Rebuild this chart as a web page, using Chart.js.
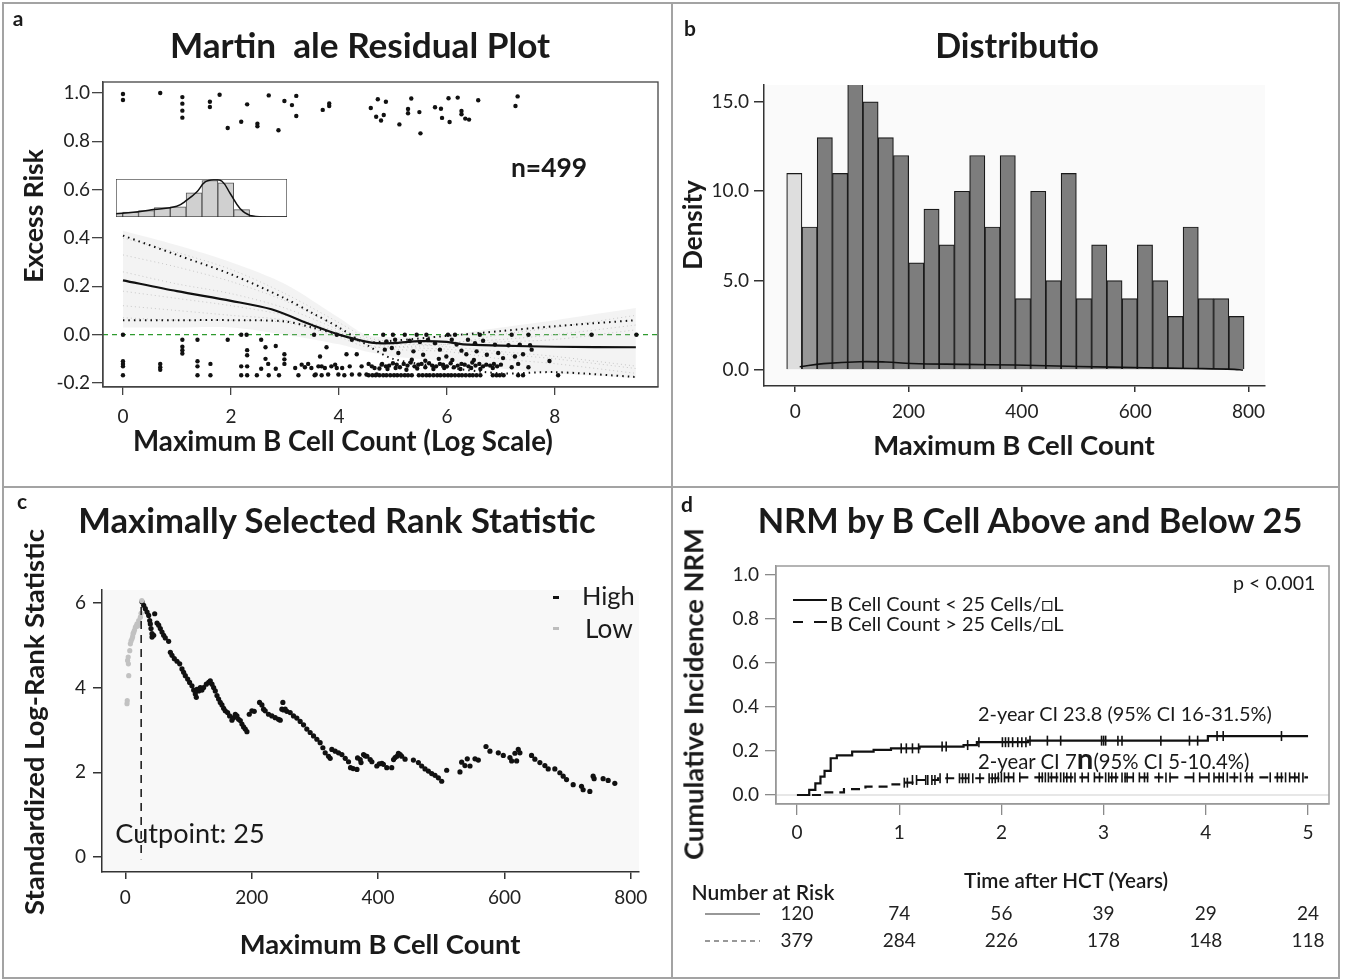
<!DOCTYPE html>
<html>
<head>
<meta charset="utf-8">
<title>B cell count and NRM</title>
<script src="https://cdn.jsdelivr.net/npm/chart.js@4.4.1/dist/chart.umd.min.js"></script>
<style>
    body { margin: 0; background: #ffffff; }
    #page { position: relative; width: 1345px; height: 980px; overflow: hidden; background: #ffffff; font-family: Lato, 'Open Sans', sans-serif; color: #1a1a1a; }
    .wrap { position: absolute; }
    .rule { position: absolute; background: #a3a3a3; }
    .txt { position: absolute; white-space: pre; line-height: 1; }
    .c { transform: translate(-50%, -50%); }
    .l { transform: translate(0, -50%); }
    .v { transform: translate(-50%, -50%) rotate(-90deg); }
    .bold { font-weight: 700; }
    .semi { font-weight: 600; }
    .mark { position: absolute; }
</style>
</head>
<body>
<div id="page">
    <div class="wrap" style="left:0;top:0;width:672px;height:487px"><canvas id="residualChart"></canvas></div>
    <div class="wrap" style="left:116px;top:179px;width:171px;height:38px"><canvas id="insetChart"></canvas></div>
    <div class="wrap" style="left:672px;top:0;width:673px;height:487px"><canvas id="distributionChart"></canvas></div>
    <div class="wrap" style="left:0;top:487px;width:672px;height:493px"><canvas id="rankChart"></canvas></div>
    <div class="wrap" style="left:672px;top:487px;width:673px;height:493px"><canvas id="nrmChart"></canvas></div>

    <div class="rule" style="left:2px;top:2px;width:1338px;height:2px"></div>
    <div class="rule" style="left:2px;top:977px;width:1338px;height:2px"></div>
    <div class="rule" style="left:2px;top:2px;width:2px;height:977px"></div>
    <div class="rule" style="left:1338px;top:2px;width:2px;height:977px"></div>
    <div class="rule" style="left:671px;top:2px;width:2px;height:977px"></div>
    <div class="rule" style="left:2px;top:486px;width:1338px;height:2px"></div>

    <!-- panel a -->
    <div class="txt c bold" style="left:18px;top:17px;font-size:21px">a</div>
    <div class="txt c bold" data-w="380" style="left:360px;top:45px;font-size:30px">Martin  ale Residual Plot</div>
    <div class="txt v bold" data-w="134" style="left:33px;top:216px;font-size:24px">Excess Risk</div>
    <div class="txt c bold" data-w="420" style="left:343px;top:441px;font-size:24px">Maximum B Cell Count (Log Scale)</div>
    <div class="txt c bold" data-w="76" style="left:549px;top:167px;font-size:24px">n=499</div>

    <!-- panel b -->
    <div class="txt c bold" style="left:690px;top:27px;font-size:21px">b</div>
    <div class="txt c bold" data-w="164" style="left:1017px;top:45px;font-size:30px">Distributio</div>
    <div class="txt v bold" data-w="90" style="left:692px;top:225px;font-size:24px">Density</div>
    <div class="txt c bold" data-w="282" style="left:1014px;top:445px;font-size:24px">Maximum B Cell Count</div>

    <!-- panel c -->
    <div class="txt c bold" style="left:22px;top:500px;font-size:21px">c</div>
    <div class="txt c bold" data-w="518" style="left:337px;top:520px;font-size:30px">Maximally Selected Rank Statistic</div>
    <div class="txt v bold" data-w="386" style="left:34px;top:722px;font-size:24px">Standardized Log-Rank Statistic</div>
    <div class="txt c bold" data-w="281" style="left:380px;top:944px;font-size:24px">Maximum B Cell Count</div>
    <div class="txt c" data-w="149" style="left:190px;top:833px;font-size:24px">Cutpoint: 25</div>
    <div class="mark" style="left:553px;top:596px;width:6px;height:3px;background:#111"></div>
    <div class="mark" style="left:553px;top:627px;width:6px;height:3px;background:#bdbdbd"></div>
    <div class="txt l" data-w="53" style="left:582px;top:596px;font-size:24px">High</div>
    <div class="txt l" data-w="48" style="left:585px;top:628px;font-size:24px">Low</div>

    <!-- panel d -->
    <div class="txt c bold" style="left:687px;top:503px;font-size:21px">d</div>
    <div class="txt c bold" data-w="545" style="left:1030px;top:520px;font-size:30px">NRM by B Cell Above and Below 25</div>
    <div class="txt v bold" data-w="332" style="left:693px;top:694px;font-size:24px">Cumulative Incidence NRM</div>
    <div class="txt c semi" data-w="204" style="left:1066px;top:880px;font-size:19px">Time after HCT (Years)</div>
    <div class="txt c semi" data-w="143" style="left:763px;top:892px;font-size:19px">Number at Risk</div>
    <div class="txt l" data-w="83" style="left:1233px;top:583px;font-size:17px">p &lt; 0.001</div>
    <div class="mark" style="left:793px;top:599px;width:34px;height:2px;background:#111"></div>
    <div class="mark" style="left:793px;top:621px;width:10px;height:2px;background:#111"></div>
    <div class="mark" style="left:814px;top:621px;width:13px;height:2px;background:#111"></div>
    <div class="txt l" data-w="233" style="left:830px;top:603px;font-size:17px">B Cell Count &lt; 25 Cells/□L</div>
    <div class="txt l" data-w="233" style="left:830px;top:623px;font-size:17px">B Cell Count &gt; 25 Cells/□L</div>
    <div class="txt l" data-w="294" style="left:978px;top:714px;font-size:18px">2-year CI 23.8 (95% CI 16-31.5%)</div>
    <div class="txt l" data-w="272" style="left:978px;top:758px;font-size:18px">2-year CI 7<b style="font-size:1.45em">n</b>(95% CI 5-10.4%)</div>
</div>

<script>
// ---------- panel a: martingale residuals ----------
const residTicksX = [0, 2, 4, 6, 8];
const residTicksY = [-0.2, 0, 0.2, 0.4, 0.6, 0.8, 1.0];

const residEvents = [
    [0, 0.996], [0, 0.971], [0.69, 1.0], [1.1, 0.983], [1.1, 0.956], [1.1, 0.927], [1.1, 0.898],
    [1.61, 0.964], [1.61, 0.942], [1.79, 0.993], [1.94, 0.855], [2.19, 0.881], [2.3, 0.953],
    [2.49, 0.873], [2.49, 0.862], [2.7, 0.99], [2.88, 0.846], [2.99, 0.967], [3.13, 0.95],
    [3.21, 0.988], [3.21, 0.905], [3.7, 0.93], [3.82, 0.957], [3.82, 0.946], [4.59, 0.938],
    [4.72, 0.974], [4.69, 0.902], [4.78, 0.886], [4.83, 0.909], [4.87, 0.964], [5.34, 0.977],
    [5.28, 0.934], [5.28, 0.916], [5.49, 0.921], [5.12, 0.87], [5.51, 0.833], [5.78, 0.941],
    [5.89, 0.935], [5.91, 0.897], [6.05, 0.88], [6.03, 0.978], [6.2, 0.981], [6.27, 0.926],
    [6.27, 0.912], [6.34, 0.894], [6.41, 0.89], [6.58, 0.97], [7.31, 0.986], [7.27, 0.946],
];

const residCensored = [
    [0, 0], [0, -0.11], [0, -0.121], [0, -0.131], [0, -0.168],
    [0.69, -0.121], [0.69, -0.135], [0.69, -0.145],
    [1.1, -0.021], [1.1, -0.05], [1.1, -0.064], [1.1, -0.078],
    [1.38, -0.021], [1.38, -0.11], [1.38, -0.131], [1.38, -0.168], [1.62, -0.121], [1.62, -0.168],
    [1.94, -0.021], [2.19, 0], [2.29, 0], [2.19, -0.131], [2.19, -0.168],
    [2.3, -0.064], [2.3, -0.085], [2.3, -0.131], [2.3, -0.168],
    [2.56, -0.021], [2.64, -0.052], [2.83, -0.047], [2.64, -0.1], [2.69, -0.121], [2.56, -0.141],
    [2.7, -0.168], [2.48, -0.168], [2.83, -0.141], [2.89, -0.168], [2.99, -0.081], [2.99, -0.102],
    [2.99, -0.121], [3.19, -0.138], [3.25, -0.168], [3.31, -0.124], [3.37, -0.135], [3.43, -0.121],
    [3.49, -0.138], [3.57, -0.165], [3.62, -0.131], [3.65, -0.09], [3.68, -0.131], [3.74, -0.138],
    [3.77, -0.052], [3.8, -0.165], [3.86, -0.131], [3.93, -0.124], [3.96, -0.138], [3.99, -0.165],
    [4.06, -0.138], [4.14, -0.081], [4.2, -0.131], [4.24, -0.165], [4.33, -0.081], [4.42, -0.131],
    [4.51, -0.165], [4.61, -0.131], [4.7, -0.165], [4.79, -0.124], [3.54, 0], [3.96, 0],
    [4.24, -0.021], [3.55, -0.168], [3.68, -0.168], [4.1, -0.168], [4.38, -0.165], [4.55, -0.121],
    [4.66, -0.138], [4.75, -0.14],
    [4.82, 0], [5.0, 0], [5.22, 0], [5.44, 0], [5.62, 0], [6.02, 0], [6.15, 0], [6.61, 0],
    [7.2, 0], [7.51, 0], [8.68, 0], [9.51, 0],
    [4.88, -0.028], [5.04, -0.021], [5.31, -0.025], [5.5, -0.03], [5.65, -0.021], [5.78, -0.035],
    [6.09, -0.021], [6.18, -0.041], [6.39, -0.021], [6.52, -0.035], [6.67, -0.025], [6.89, -0.041],
    [7.14, -0.044], [7.35, -0.041], [7.54, -0.044], [7.57, -0.062],
    [4.85, -0.062], [4.98, -0.055], [5.1, -0.076], [5.38, -0.069], [5.56, -0.083], [5.87, -0.062],
    [5.99, -0.09], [6.27, -0.066], [6.36, -0.081], [6.55, -0.069], [6.74, -0.083], [6.95, -0.076],
    [7.04, -0.097], [7.26, -0.09], [7.41, -0.081],
    [4.8, -0.121], [4.87, -0.131], [4.93, -0.128], [5.0, -0.118], [5.07, -0.124], [5.13, -0.135],
    [5.2, -0.121], [5.27, -0.128], [5.33, -0.115], [5.4, -0.131], [5.47, -0.124], [5.53, -0.121],
    [5.6, -0.135], [5.67, -0.118], [5.73, -0.128], [5.8, -0.131], [5.87, -0.121], [5.93, -0.124],
    [6.0, -0.131], [6.07, -0.118], [6.13, -0.135], [6.2, -0.128], [6.27, -0.121], [6.33, -0.124],
    [6.4, -0.131], [6.47, -0.115], [6.53, -0.128], [6.6, -0.121], [6.67, -0.131], [6.73, -0.124],
    [6.8, -0.128], [6.87, -0.121], [6.93, -0.131], [7.0, -0.124],
    [4.9, -0.142], [5.05, -0.138], [5.25, -0.145], [5.45, -0.14], [5.6, -0.108], [5.75, -0.142],
    [5.95, -0.138], [6.1, -0.105], [6.25, -0.142], [6.45, -0.138], [6.62, -0.142], [6.85, -0.138],
    [5.35, -0.104], [5.85, -0.1], [6.5, -0.105],
    [7.2, -0.135], [7.32, -0.121], [7.51, -0.135], [7.9, -0.109], [8.06, -0.168],
    [4.55, -0.168], [4.62, -0.168], [4.68, -0.168], [4.75, -0.168], [4.82, -0.168], [4.88, -0.168],
    [4.95, -0.168], [5.02, -0.168], [5.08, -0.168], [5.15, -0.168], [5.22, -0.168], [5.28, -0.168],
    [5.35, -0.168], [5.48, -0.168], [5.55, -0.168], [5.62, -0.168], [5.68, -0.168], [5.75, -0.168],
    [5.82, -0.168], [5.88, -0.168], [5.95, -0.168], [6.02, -0.168], [6.08, -0.168], [6.15, -0.168],
    [6.22, -0.168], [6.28, -0.168], [6.35, -0.168], [6.42, -0.168], [6.48, -0.168], [6.55, -0.168],
    [6.62, -0.168], [6.85, -0.168], [6.92, -0.168], [6.98, -0.168], [7.05, -0.168], [7.32, -0.168],
    [7.41, -0.168],
];

const smoothX = [0, 1, 2, 2.75, 3.5, 4, 4.6, 5, 5.5, 6, 6.3, 7, 8, 9.5];
const smoothY = [0.225, 0.18, 0.14, 0.105, 0.04, 0.0, -0.033, -0.035, -0.027, -0.03, -0.04, -0.045, -0.05, -0.052];

const boundX = [0, 1, 2, 3, 3.5, 4, 4.5, 5, 6, 7, 8, 9.5];
const boundUpper = [0.41, 0.33, 0.25, 0.15, 0.09, 0.03, -0.04, -0.1, -0.135, -0.16, -0.155, -0.175];
const boundLower = [0.06, 0.06, 0.06, 0.055, 0.03, 0.0, -0.03, -0.025, -0.005, 0.015, 0.035, 0.06];

const bandX = [0, 1, 2, 3, 4, 4.5, 5, 6, 7, 8, 9.5];
const bandUpper = [0.43, 0.37, 0.3, 0.21, 0.07, 0.0, -0.01, 0.0, 0.03, 0.06, 0.11];
const bandLower = [0.03, 0.03, 0.03, 0.0, -0.04, -0.07, -0.09, -0.11, -0.14, -0.16, -0.18];
const simLines = [
    [0.4, 0.34, 0.27, 0.17, 0.05, -0.01, -0.03, -0.05, -0.07, -0.09, -0.13],
    [0.33, 0.28, 0.22, 0.14, 0.03, -0.02, -0.03, -0.03, -0.02, 0.0, 0.04],
    [0.26, 0.21, 0.17, 0.11, 0.02, -0.03, -0.05, -0.06, -0.08, -0.1, -0.14],
    [0.18, 0.15, 0.12, 0.08, 0.01, -0.03, -0.04, -0.04, -0.03, -0.02, 0.02],
    [0.12, 0.1, 0.08, 0.06, 0.0, -0.04, -0.06, -0.07, -0.1, -0.12, -0.16],
    [0.07, 0.06, 0.06, 0.05, -0.01, -0.05, -0.05, -0.04, 0.0, 0.03, 0.08],
];

// inset histogram of log counts
const insetBins = [0.5, 1.5, 2.5, 3.5, 4.5, 5.5, 6.5, 7.5, 8.5, 9.5];
const insetHeights = [0.107, 0.134, 0.17, 0.25, 0.27, 0.65, 0.98, 0.92, 0.196, 0.01];
const insetCurveX = [0.58, 1.67, 2.94, 4.41, 5.04, 5.67, 6.2, 6.73, 7.26, 7.78, 8.41, 9.04, 10.09, 11.36];
const insetCurveY = [0.09, 0.13, 0.2, 0.29, 0.45, 0.67, 0.94, 1.0, 0.96, 0.63, 0.22, 0.04, 0.0, 0.0];

// ---------- panel b: distribution ----------
const histCenters = [-1.5, 25.4, 52.3, 79.2, 106.1, 133.0, 159.9, 186.8, 213.7, 240.6, 267.5, 294.4, 321.3, 348.2, 375.1,
    402.0, 428.9, 455.8, 482.7, 509.6, 536.5, 563.4, 590.3, 617.2, 644.1, 671.0, 697.9, 724.8, 751.7, 778.6];
const histDensity = [11, 8, 13, 11, 16, 15, 13, 12, 6, 9, 7, 10, 12, 8, 12, 4, 10, 5, 11, 4, 7, 5, 4, 7, 5, 3, 8, 4, 4, 3];
const histTicksX = [0, 200, 400, 600, 800];
const histTicksY = [0, 5, 10, 15];
const densX = [8, 50, 114, 160, 205, 300, 388, 500, 615, 700, 775, 790];
const densY = [0.19, 0.36, 0.47, 0.45, 0.37, 0.32, 0.28, 0.2, 0.13, 0.09, 0.04, 0.0];

// ---------- panel c: maximally selected rank statistic ----------
const rankTicksX = [0, 200, 400, 600, 800];
const rankTicksY = [0, 2, 4, 6];
const cutpoint = 25;
const rankLow = [
    [2.6, 3.62], [3.0, 3.69], [5.3, 4.28], [3.5, 4.64], [4.8, 4.56], [4.5, 4.72], [6.9, 4.87], [7.9, 5.03],
    [9.0, 5.1], [10.5, 5.15], [11.5, 5.2], [12.2, 5.27], [13.2, 5.3], [14.3, 5.35], [15.8, 5.42], [17.0, 5.45],
    [18.4, 5.5], [19.5, 5.45], [21.1, 5.58], [22.0, 5.52], [23.7, 5.66], [24.8, 5.75], [26.0, 6.05],
];
const rankHigh = [
    [26.3, 6.02], [29.0, 5.94], [31.6, 5.86], [34.3, 5.78], [36.9, 5.7], [38.5, 5.58], [39.5, 5.5], [40.6, 5.39],
    [42.2, 5.27], [42.2, 5.19], [44.8, 5.23], [46.4, 5.74], [50.1, 5.52], [52.7, 5.47], [55.3, 5.39], [58.0, 5.31],
    [60.6, 5.23], [63.2, 5.17], [68.5, 5.09], [71.2, 4.83], [73.8, 4.76], [77.5, 4.68], [81.7, 4.62], [86.0, 4.56],
    [89.6, 4.44], [92.2, 4.36], [94.9, 4.28], [98.6, 4.2], [101.7, 4.12], [105.4, 4.04], [108.1, 3.94], [110.7, 3.85],
    [112.3, 3.77], [113.3, 3.96], [116.0, 3.92], [118.6, 4.0], [121.2, 3.94], [123.9, 4.0], [128.1, 4.08], [131.8, 4.12],
    [134.4, 4.16], [137.1, 4.08], [139.7, 4.0], [142.3, 3.92], [145.0, 3.81], [147.6, 3.73], [150.2, 3.65], [152.9, 3.59],
    [155.5, 3.51], [158.1, 3.45], [161.8, 3.41], [165.0, 3.33], [168.7, 3.23], [171.3, 3.29], [174.0, 3.37], [176.6, 3.33],
    [179.2, 3.25], [181.9, 3.22], [184.5, 3.14], [187.1, 3.07], [189.8, 3.02], [192.4, 2.96], [196.1, 3.37], [200.3, 3.45],
    [204.0, 3.44], [212.4, 3.65], [216.1, 3.59], [218.7, 3.49], [221.3, 3.45], [226.6, 3.37], [231.9, 3.33], [237.2, 3.29],
    [242.4, 3.25], [245.1, 3.23], [249.3, 3.65], [247.7, 3.49], [250.3, 3.47], [253.0, 3.49], [255.6, 3.44], [260.9, 3.41],
    [266.1, 3.33], [271.4, 3.28], [276.7, 3.2], [282.0, 3.12], [287.2, 3.02], [292.5, 2.94], [297.8, 2.86], [303.1, 2.78],
    [308.3, 2.7], [312.6, 2.58], [316.3, 2.46], [321.6, 2.38], [324.2, 2.33], [326.8, 2.54], [332.1, 2.5], [337.4, 2.46],
    [342.7, 2.42], [348.0, 2.33], [353.2, 2.25], [356.4, 2.11], [360.5, 2.09], [366.6, 2.07], [367.5, 2.34], [371.7, 2.3],
    [373.0, 2.23], [377.0, 2.42], [379.5, 2.39], [382.3, 2.38], [387.5, 2.3], [390.2, 2.25], [398.0, 2.15], [402.0, 2.2],
    [406.0, 2.21], [408.4, 2.19], [413.7, 2.11], [421.6, 2.11], [424.5, 2.3], [426.9, 2.35], [429.8, 2.38], [432.2, 2.45],
    [435.0, 2.42], [437.4, 2.38], [442.7, 2.31], [455.9, 2.29], [463.8, 2.23], [469.0, 2.15], [474.3, 2.08], [479.6, 2.03],
    [484.9, 1.97], [490.1, 1.93], [495.4, 1.87], [500.7, 1.79], [508.6, 2.05], [529.6, 2.01], [532.3, 2.24], [537.5, 2.16],
    [541.2, 2.32], [545.5, 2.15], [553.4, 2.32], [558.7, 2.29], [570.8, 2.61], [577.1, 2.5], [590.3, 2.46], [598.2, 2.4],
    [608.7, 2.35], [611.4, 2.27], [616.6, 2.45], [619.3, 2.27], [621.9, 2.54], [624.5, 2.46], [642.9, 2.4], [648.2, 2.31],
    [656.1, 2.23], [664.0, 2.16], [669.3, 2.08], [679.8, 2.08], [687.7, 1.99], [693.0, 1.91], [698.3, 1.83], [708.8, 1.71],
    [722.0, 1.67], [724.6, 1.59], [735.2, 1.55], [740.4, 1.91], [742.0, 1.85], [756.2, 1.85], [764.2, 1.81], [774.7, 1.74],
];

// ---------- panel d: cumulative incidence of NRM ----------
const nrmTicksX = [0, 1, 2, 3, 4, 5];
const nrmTicksY = [0, 0.2, 0.4, 0.6, 0.8, 1.0];
const lowTimes = [0, 0.08, 0.12, 0.18, 0.23, 0.27, 0.33, 0.39, 0.54, 0.75, 0.92, 1.2, 1.63, 1.76, 2.26, 4.02, 5.0];
const lowCI = [0, 0, 0.023, 0.053, 0.083, 0.11, 0.167, 0.18, 0.197, 0.205, 0.212, 0.22, 0.227, 0.24, 0.247, 0.268, 0.268];
const highTimes = [0, 0.2, 0.25, 0.46, 0.67, 0.92, 1.0, 1.13, 1.38, 1.97, 5.0];
const highCI = [0, 0, 0.012, 0.027, 0.038, 0.048, 0.056, 0.068, 0.076, 0.08, 0.08];
const lowCensor = [1.02, 1.07, 1.13, 1.19, 1.42, 1.46, 1.67, 1.78, 2.01, 2.04, 2.07, 2.11, 2.16, 2.2, 2.24, 2.28,
    2.45, 2.58, 2.98, 3.0, 3.02, 3.14, 3.18, 3.56, 3.84, 3.92, 4.11, 4.17, 4.74];
const highCensor = [1.05, 1.08, 1.13, 1.17, 1.26, 1.28, 1.32, 1.35, 1.4, 1.47, 1.59, 1.62, 1.65, 1.68, 1.72, 1.79,
    1.88, 1.91, 1.94, 1.97, 2.0, 2.03, 2.07, 2.12, 2.18, 2.37, 2.4, 2.43, 2.46, 2.49, 2.54, 2.58, 2.61, 2.64, 2.68,
    2.72, 2.79, 2.85, 2.91, 2.96, 3.02, 3.05, 3.08, 3.12, 3.18, 3.21, 3.23, 3.29, 3.35, 3.4, 3.43, 3.54, 3.61, 3.65,
    3.88, 3.94, 4.03, 4.08, 4.13, 4.17, 4.21, 4.28, 4.34, 4.4, 4.45, 4.63, 4.7, 4.74, 4.78, 4.82, 4.87, 4.91, 4.95];
const riskTimes = [0, 1, 2, 3, 4, 5];
const riskLow = [120, 74, 56, 39, 29, 24];
const riskHigh = [379, 284, 226, 178, 148, 118];

// ---------- helpers ----------
const tickFont = { family: 'Lato', size: 19 };
const toPoints = (xs, ys) => xs.map((x, i) => ({ x, y: ys[i] }));
const toXY = (pairs) => pairs.map(([x, y]) => ({ x, y }));

function stepAt(times, values, t) {
    let v = values[0];
    times.forEach((time, i) => {
        if (time <= t) {
            v = values[i];
        }
    });
    return v;
}

// panel origin + the plot rectangle wanted in page pixels
function plotFrame(panel, area) {
    return {
        padding: { top: area.t - panel.y, right: panel.x + panel.w - area.r, bottom: 0, left: 0 },
        yWidth: area.l - panel.x,
        xHeight: panel.y + panel.h - area.b,
    };
}

function linearAxis(min, max, ticks, fit, opts) {
    return {
        type: 'linear',
        min,
        max,
        offset: false,
        afterBuildTicks: (scale) => {
            scale.ticks = ticks.map((value) => ({ value }));
        },
        afterFit: fit,
        grid: { display: true, offset: false, drawOnChartArea: false, drawTicks: true, tickLength: opts.tickLength, color: opts.color, lineWidth: opts.lineWidth },
        border: { display: true, color: opts.color, width: opts.lineWidth },
        ticks: { color: '#222', font: tickFont, padding: opts.padding, callback: opts.format },
    };
}

const plotBoxPlugin = {
    id: 'plotBox',
    beforeDraw(chart, args, opts) {
        if (!opts.fill) {
            return;
        }
        const { ctx, chartArea: a } = chart;
        ctx.save();
        ctx.fillStyle = opts.fill;
        ctx.fillRect(a.left, a.top, a.right - a.left, a.bottom - a.top);
        ctx.restore();
    },
    afterDraw(chart, args, opts) {
        if (!opts.stroke) {
            return;
        }
        const { ctx, chartArea: a } = chart;
        ctx.save();
        ctx.strokeStyle = opts.stroke;
        ctx.lineWidth = opts.width || 1;
        ctx.strokeRect(a.left, a.top, a.right - a.left, a.bottom - a.top);
        ctx.restore();
    },
};

const refLinePlugin = {
    id: 'refLine',
    beforeDatasetsDraw(chart, args, opts) {
        if (opts.value === undefined) {
            return;
        }
        const { ctx, chartArea: a, scales } = chart;
        const y = scales.y.getPixelForValue(opts.value);
        ctx.save();
        ctx.strokeStyle = opts.color;
        ctx.lineWidth = opts.width;
        ctx.setLineDash(opts.dash || []);
        ctx.beginPath();
        ctx.moveTo(a.left, y);
        ctx.lineTo(a.right, y);
        ctx.stroke();
        ctx.restore();
    },
};

Chart.register(plotBoxPlugin, refLinePlugin);
Chart.defaults.font.family = 'Lato';

const baseOptions = {
    responsive: true,
    maintainAspectRatio: false,
    animation: false,
    events: [],
};

function fitTexts() {
    document.querySelectorAll('[data-w]').forEach((el) => {
        const target = parseFloat(el.dataset.w);
        const base = parseFloat(getComputedStyle(el).fontSize);
        el.style.fontSize = (base * target / el.offsetWidth).toFixed(2) + 'px';
    });
}

document.addEventListener('DOMContentLoaded', () => {
    fitTexts();
    initResidualChart();
    initInsetChart();
    initDistributionChart();
    initRankChart();
    initNrmChart();
});

function initResidualChart() {
    const frame = plotFrame({ x: 0, y: 0, w: 672, h: 487 }, { l: 103, t: 82, r: 658, b: 387 });
    const dotted = { borderColor: '#111', borderWidth: 2, borderDash: [1.5, 4], pointRadius: 0, fill: false, tension: 0.3, order: 3 };

    // higher order is painted first, so the grey band sits at the back
    const datasets = [
        {
            type: 'line',
            data: toPoints(bandX, bandUpper),
            borderWidth: 0,
            pointRadius: 0,
            backgroundColor: 'rgba(200, 200, 200, 0.22)',
            fill: '+1',
            tension: 0.3,
            order: 10,
        },
        {
            type: 'line',
            data: toPoints(bandX, bandLower),
            borderWidth: 0,
            pointRadius: 0,
            fill: false,
            tension: 0.3,
            order: 9,
        },
    ];
    simLines.forEach((line) => {
        datasets.push({
            type: 'line',
            data: toPoints(bandX, line),
            borderColor: 'rgba(170, 170, 170, 0.6)',
            borderWidth: 1,
            borderDash: [1, 3],
            pointRadius: 0,
            fill: false,
            tension: 0.3,
            order: 8,
        });
    });
    datasets.push({ type: 'line', data: toPoints(boundX, boundUpper), ...dotted });
    datasets.push({ type: 'line', data: toPoints(boundX, boundLower), ...dotted });
    datasets.push({
        type: 'line',
        data: toPoints(smoothX, smoothY),
        borderColor: '#111',
        borderWidth: 2.2,
        pointRadius: 0,
        fill: false,
        tension: 0.3,
        order: 2,
    });
    datasets.push({ type: 'scatter', data: toXY(residEvents), pointRadius: 2.2, backgroundColor: '#111', borderWidth: 0, order: 1 });
    datasets.push({ type: 'scatter', data: toXY(residCensored), pointRadius: 2.2, backgroundColor: '#111', borderWidth: 0, order: 1 });

    new Chart(document.getElementById('residualChart'), {
        type: 'scatter',
        data: { datasets },
        options: {
            ...baseOptions,
            layout: { padding: frame.padding },
            plugins: {
                legend: { display: false },
                tooltip: { enabled: false },
                plotBox: { stroke: '#444', width: 1.3 },
                refLine: { value: 0, color: '#2e9a2e', width: 1.3, dash: [5, 4] },
            },
            scales: {
                x: linearAxis(-0.37, 9.91, residTicksX, (s) => { s.height = frame.xHeight; },
                    { tickLength: 8, color: '#444', lineWidth: 1.3, padding: 10, format: (v) => String(v) }),
                y: linearAxis(-0.2165, 1.0455, residTicksY, (s) => { s.width = frame.yWidth; },
                    { tickLength: 11, color: '#444', lineWidth: 1.3, padding: 2, format: (v) => v.toFixed(1) }),
            },
        },
    });
}

function initInsetChart() {
    new Chart(document.getElementById('insetChart'), {
        type: 'bar',
        data: {
            datasets: [
                {
                    type: 'line',
                    data: toPoints(insetCurveX, insetCurveY),
                    borderColor: '#111',
                    borderWidth: 1.5,
                    pointRadius: 0,
                    tension: 0.4,
                    fill: false,
                },
                {
                    type: 'bar',
                    data: toPoints(insetBins, insetHeights),
                    backgroundColor: '#d0d0d0',
                    borderColor: '#555',
                    borderWidth: 1,
                    barPercentage: 1,
                    categoryPercentage: 1,
                },
            ],
        },
        options: {
            ...baseOptions,
            layout: { padding: 0 },
            plugins: {
                legend: { display: false },
                tooltip: { enabled: false },
                plotBox: { fill: '#ffffff', stroke: '#333', width: 1.2 },
            },
            scales: {
                x: { type: 'linear', min: 0.58, max: 11.36, offset: false, display: false },
                y: { min: 0, max: 1.02, display: false },
            },
        },
    });
}

function initDistributionChart() {
    const frame = plotFrame({ x: 672, y: 0, w: 673, h: 487 }, { l: 764, t: 85, r: 1265, b: 386 });
    const colors = histDensity.map((v, i) => (i === 0 ? '#dedede' : i === 1 ? '#979797' : '#7d7d7d'));

    new Chart(document.getElementById('distributionChart'), {
        type: 'bar',
        data: {
            datasets: [
                {
                    type: 'line',
                    data: toPoints(densX, densY),
                    borderColor: '#111',
                    borderWidth: 1.6,
                    pointRadius: 0,
                    tension: 0.4,
                    fill: false,
                },
                {
                    type: 'bar',
                    data: toPoints(histCenters, histDensity),
                    backgroundColor: colors,
                    borderColor: '#1a1a1a',
                    borderWidth: 1.2,
                    barPercentage: 1,
                    categoryPercentage: 1,
                },
            ],
        },
        options: {
            ...baseOptions,
            layout: { padding: frame.padding },
            plugins: {
                legend: { display: false },
                tooltip: { enabled: false },
                plotBox: { fill: '#fafafa' },
            },
            scales: {
                x: linearAxis(-55, 829, histTicksX, (s) => { s.height = frame.xHeight; },
                    { tickLength: 6, color: '#333', lineWidth: 1.5, padding: 8, format: (v) => String(v) }),
                y: linearAxis(-0.89, 15.94, histTicksY, (s) => { s.width = frame.yWidth; },
                    { tickLength: 10, color: '#333', lineWidth: 1.5, padding: 5, format: (v) => v.toFixed(1) }),
            },
        },
    });
}

function initRankChart() {
    const frame = plotFrame({ x: 0, y: 487, w: 672, h: 493 }, { l: 102, t: 590, r: 639, b: 872 });

    new Chart(document.getElementById('rankChart'), {
        type: 'scatter',
        data: {
            datasets: [
                {
                    type: 'line',
                    data: [{ x: cutpoint, y: 5.9 }, { x: cutpoint, y: -0.05 }],
                    borderColor: '#222',
                    borderWidth: 1.6,
                    borderDash: [8, 6],
                    pointRadius: 0,
                },
                { data: toXY(rankLow), pointRadius: 2.6, backgroundColor: '#c2c2c2', borderWidth: 0 },
                { data: toXY(rankHigh), pointRadius: 2.6, backgroundColor: '#111', borderWidth: 0 },
            ],
        },
        options: {
            ...baseOptions,
            layout: { padding: frame.padding },
            plugins: {
                legend: { display: false },
                tooltip: { enabled: false },
                plotBox: { fill: '#f8f8f8' },
            },
            scales: {
                x: linearAxis(-37, 813, rankTicksX, (s) => { s.height = frame.xHeight; },
                    { tickLength: 7, color: '#333', lineWidth: 1.5, padding: 7, format: (v) => String(v) }),
                y: linearAxis(-0.35, 6.3, rankTicksY, (s) => { s.width = frame.yWidth; },
                    { tickLength: 9, color: '#333', lineWidth: 1.5, padding: 7, format: (v) => String(v) }),
            },
        },
    });
}

function initNrmChart() {
    const panel = { x: 672, y: 487, w: 673, h: 493 };
    const frame = plotFrame(panel, { l: 776, t: 566, r: 1329, b: 804 });
    const censorStyle = { pointStyle: 'line', rotation: 90, pointRadius: 5, borderColor: '#111', borderWidth: 1.6, showLine: false };

    const riskTablePlugin = {
        id: 'riskTable',
        afterDraw(chart) {
            const { ctx, scales } = chart;
            const rows = [
                { values: riskLow, y: 914 - panel.y, dash: [] },
                { values: riskHigh, y: 941 - panel.y, dash: [5, 4] },
            ];
            ctx.save();
            ctx.font = '19px Lato';
            ctx.fillStyle = '#222';
            ctx.strokeStyle = '#333';
            ctx.lineWidth = 1.2;
            ctx.textAlign = 'center';
            ctx.textBaseline = 'middle';
            rows.forEach((row) => {
                row.values.forEach((n, i) => {
                    ctx.fillText(String(n), scales.x.getPixelForValue(riskTimes[i]), row.y);
                });
                ctx.setLineDash(row.dash);
                ctx.beginPath();
                ctx.moveTo(705 - panel.x, row.y);
                ctx.lineTo(760 - panel.x, row.y);
                ctx.stroke();
            });
            ctx.restore();
        },
    };

    new Chart(document.getElementById('nrmChart'), {
        type: 'scatter',
        data: {
            datasets: [
                {
                    type: 'line',
                    data: toPoints(lowTimes, lowCI),
                    stepped: true,
                    borderColor: '#111',
                    borderWidth: 2.2,
                    pointRadius: 0,
                    fill: false,
                },
                {
                    type: 'line',
                    data: toPoints(highTimes, highCI),
                    stepped: true,
                    borderColor: '#111',
                    borderWidth: 2.2,
                    borderDash: [9, 6],
                    pointRadius: 0,
                    fill: false,
                },
                { data: lowCensor.map((t) => ({ x: t, y: stepAt(lowTimes, lowCI, t) })), ...censorStyle },
                { data: highCensor.map((t) => ({ x: t, y: stepAt(highTimes, highCI, t) })), ...censorStyle },
            ],
        },
        options: {
            ...baseOptions,
            layout: { padding: frame.padding },
            plugins: {
                legend: { display: false },
                tooltip: { enabled: false },
                plotBox: { stroke: '#9c9c9c', width: 1.5 },
                refLine: { value: 0, color: '#cfcfcf', width: 1.2 },
            },
            scales: {
                x: linearAxis(-0.205, 5.205, nrmTicksX, (s) => { s.height = frame.xHeight; },
                    { tickLength: 11, color: '#8a8a8a', lineWidth: 1.3, padding: 6, format: (v) => String(v) }),
                y: linearAxis(-0.041, 1.041, nrmTicksY, (s) => { s.width = frame.yWidth; },
                    { tickLength: 11, color: '#8a8a8a', lineWidth: 1.3, padding: 6, format: (v) => v.toFixed(1) }),
            },
        },
        plugins: [riskTablePlugin],
    });
}
</script>
</body>
</html>
